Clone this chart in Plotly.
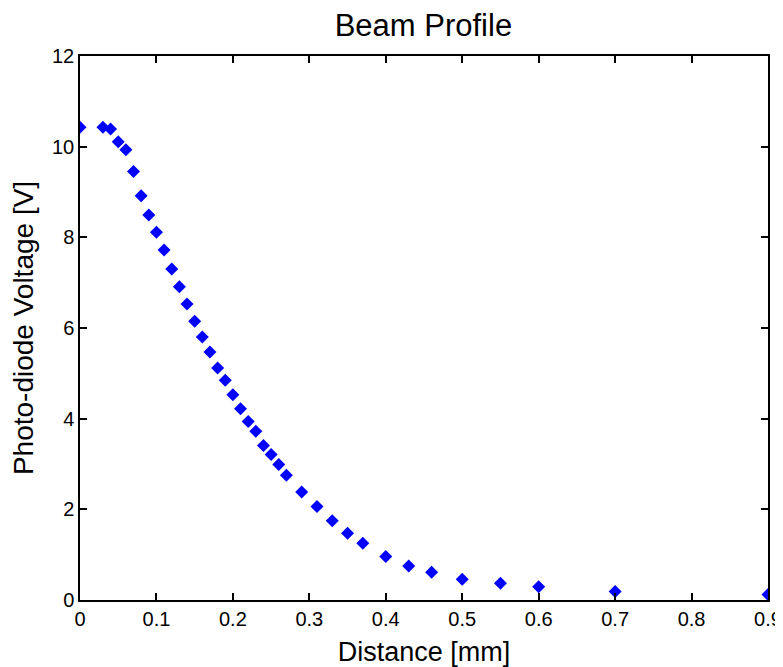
import plotly.graph_objs as go

# Beam profile measurements
distance_mm = [0, 0.03, 0.04, 0.05, 0.06, 0.07, 0.08, 0.09, 0.10, 0.11, 0.12, 0.13,
               0.14, 0.15, 0.16, 0.17, 0.18, 0.19, 0.20, 0.21, 0.22, 0.23, 0.24, 0.25,
               0.26, 0.27, 0.29, 0.31, 0.33, 0.35, 0.37, 0.40, 0.43, 0.46, 0.50, 0.55,
               0.60, 0.70, 0.90]
voltage_v = [10.43, 10.43, 10.39, 10.11, 9.93, 9.45, 8.92, 8.49, 8.11, 7.72, 7.30, 6.91,
             6.53, 6.15, 5.80, 5.47, 5.12, 4.85, 4.53, 4.22, 3.94, 3.72, 3.41, 3.21,
             2.99, 2.75, 2.38, 2.06, 1.75, 1.47, 1.25, 0.96, 0.75, 0.61, 0.46, 0.37,
             0.29, 0.19, 0.12]

x_ticks = [0, 0.1, 0.2, 0.3, 0.4, 0.5, 0.6, 0.7, 0.8, 0.9]
y_ticks = [0, 2, 4, 6, 8, 10, 12]

tick_font = dict(family='Liberation Sans, Arial', size=20, color='black')
label_font = dict(family='Liberation Sans, Arial', size=27, color='black')

fig = go.Figure()

fig.add_trace(go.Scatter(
    x=distance_mm,
    y=voltage_v,
    mode='markers',
    marker=dict(symbol='diamond', size=10, color='#0000ff', line=dict(width=0)),
    showlegend=False
))

axis_style = dict(
    showline=True, linecolor='black', linewidth=1.5, mirror='allticks',
    ticks='inside', ticklen=7, tickcolor='black', tickwidth=1.5,
    showgrid=False, zeroline=False, tickfont=tick_font, automargin=False,
)

fig.update_xaxes(range=[0, 0.9], tickvals=x_ticks, ticktext=[f'{v:g}' for v in x_ticks],
                 title=dict(text='Distance [mm]', font=label_font),
                 **axis_style)
fig.update_yaxes(range=[0, 12], tickvals=y_ticks,
                 title=dict(text='Photo-diode Voltage [V]', font=dict(label_font, size=28)),
                 **axis_style)

# page body has an 8px margin, so the figure is a bit smaller than the window
fig.update_layout(
    title=dict(text='Beam Profile', x=0.536, xanchor='center', y=0.974, yanchor='middle',
               font=dict(family='Liberation Sans, Arial', size=31, color='black')),
    plot_bgcolor='white',
    paper_bgcolor='white',
    margin=dict(l=72, r=15, t=48, b=67),
    width=775,
    height=659
)

fig.write_html("out.html")
